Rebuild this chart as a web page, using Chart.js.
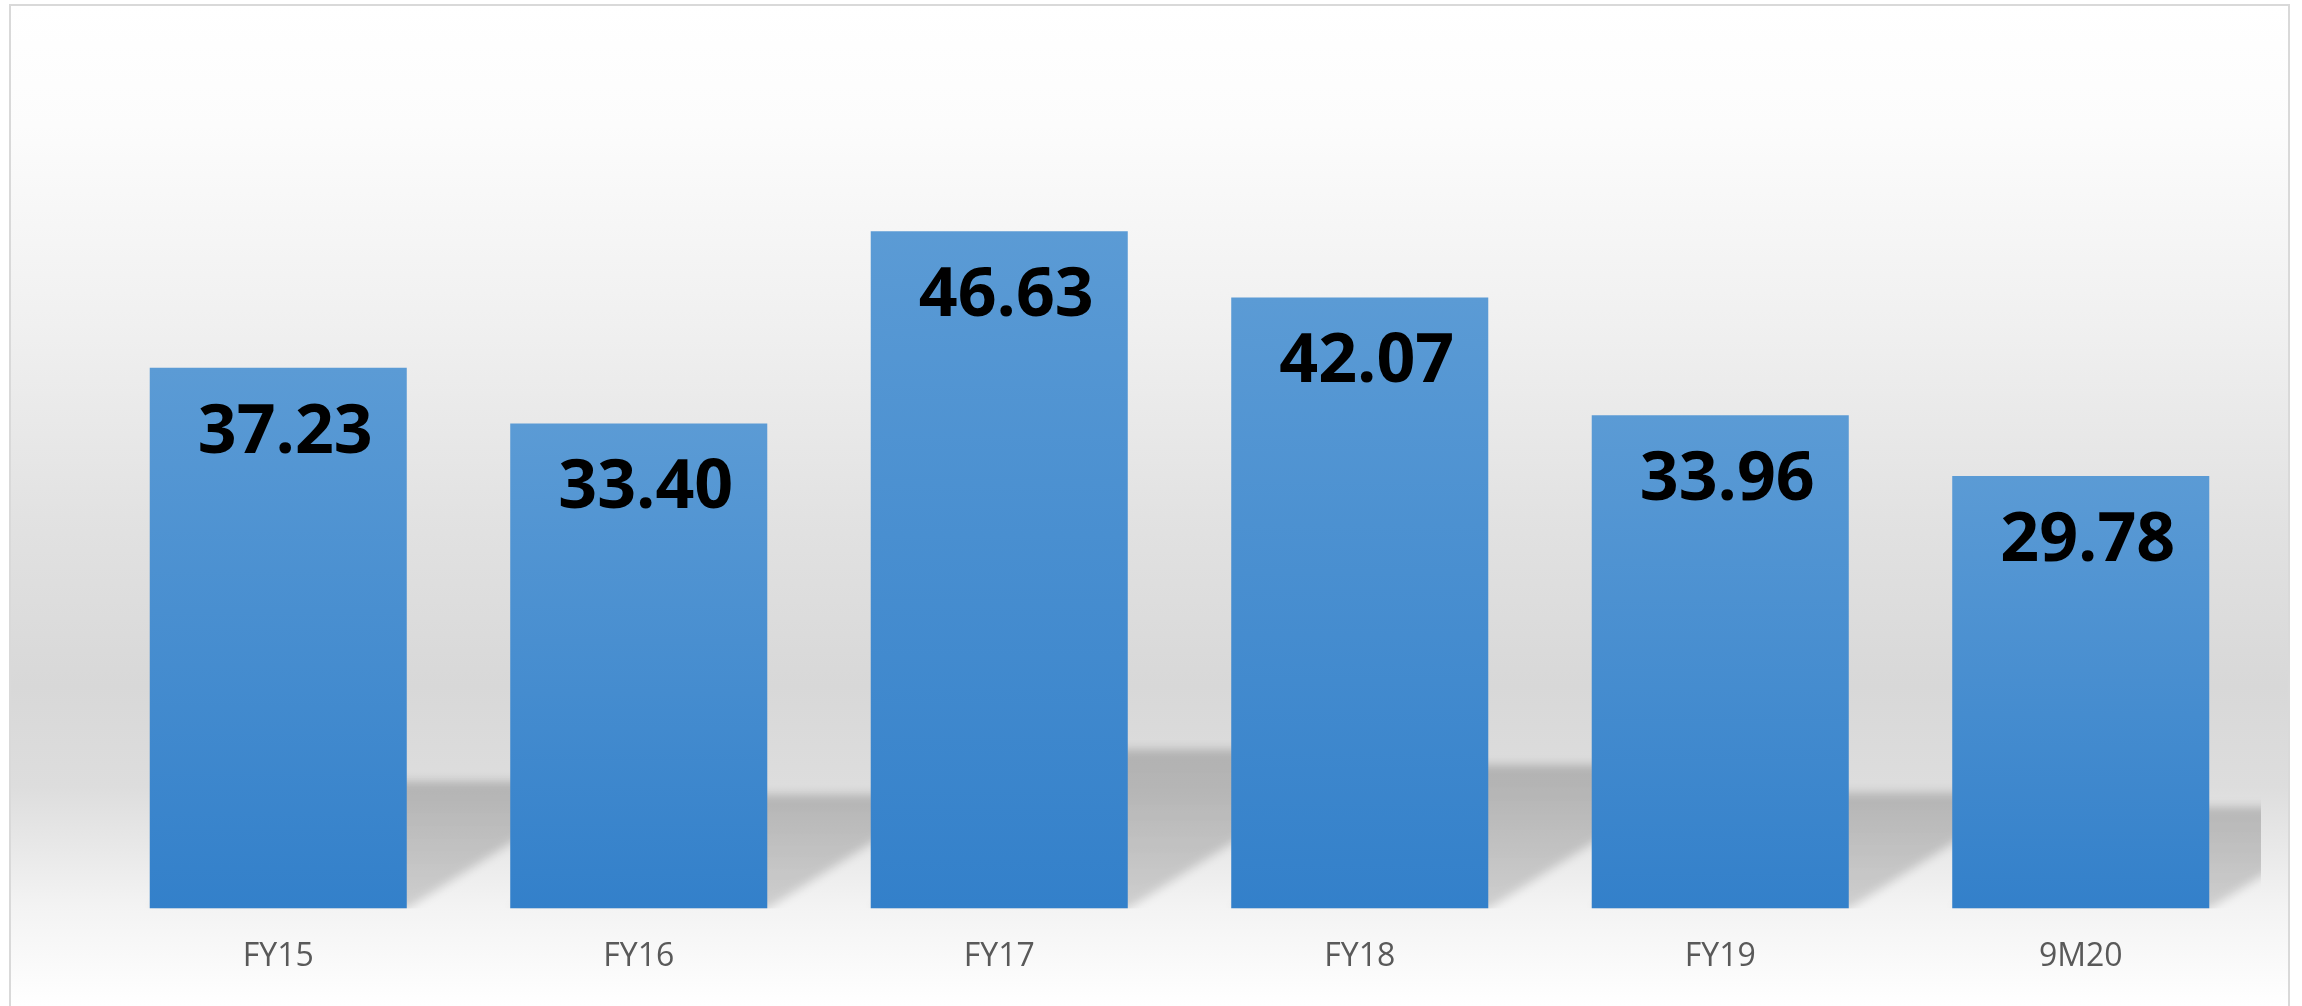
<!DOCTYPE html>
<html>
<head>
<meta charset="utf-8">
<script src="https://cdn.jsdelivr.net/npm/chart.js@4"></script>
<style>
  html, body { margin: 0; padding: 0; background: #ffffff; }
  #wrap { width: 2302px; height: 1006px; }
</style>
</head>
<body>
<div id="wrap"><canvas id="myChart" width="2302" height="1006"></canvas></div>
<script>
// dados do gráfico
const categories = ['FY15', 'FY16', 'FY17', 'FY18', 'FY19', '9M20'];
const values = [37.23, 33.40, 46.63, 42.07, 33.96, 29.78];

// fundo em degradê + moldura cinza
const backgroundPlugin = {
    id: 'fundo',
    beforeDraw(chart) {
        const c = chart.ctx;
        const h = chart.height;
        const g = c.createLinearGradient(0, 5, 0, h);
        g.addColorStop(0.00, '#ffffff');
        g.addColorStop(0.12, '#fcfcfc');
        g.addColorStop(0.32, '#f0f0f0');
        g.addColorStop(0.51, '#e2e2e2');
        g.addColorStop(0.68, '#d8d8d8');
        g.addColorStop(0.78, '#dddddd');
        g.addColorStop(0.90, '#f3f3f3');
        g.addColorStop(1.00, '#ffffff');
        c.save();
        c.fillStyle = '#ffffff';
        c.fillRect(0, 0, chart.width, h);
        c.fillStyle = g;
        c.fillRect(10, 5, 2279, h);
        c.strokeStyle = '#d9d9d9';
        c.lineWidth = 2;
        c.strokeRect(10, 5, 2279, h + 10);
        c.restore();
    }
};

// sombra em perspectiva atrás das barras
const shadowPlugin = {
    id: 'sombra',
    beforeDatasetsDraw(chart) {
        const c = chart.ctx;
        const area = chart.chartArea;
        const bars = chart.getDatasetMeta(0).data;
        c.save();
        c.beginPath();
        c.rect(area.left, 0, area.right - area.left, area.bottom);
        c.clip();
        c.filter = 'blur(5px)';
        bars.forEach(bar => {
            const w = bar.width;
            const L = bar.x - w / 2, R = bar.x + w / 2, B = bar.base;
            const h = B - bar.y;
            const sh = h * 0.235, s = h * 0.373;
            const g = c.createLinearGradient(0, B - sh, 0, B);
            g.addColorStop(0, 'rgba(0,0,0,0.19)');
            g.addColorStop(1, 'rgba(0,0,0,0.15)');
            c.fillStyle = g;
            c.beginPath();
            c.moveTo(L, B);
            c.lineTo(R, B);
            c.lineTo(R + s, B - sh);
            c.lineTo(L + s, B - sh);
            c.closePath();
            c.fill();
        });
        c.restore();
    }
};

// rótulos dentro das barras
const labelPlugin = {
    id: 'rotulos',
    afterDatasetsDraw(chart) {
        const c = chart.ctx;
        const bars = chart.getDatasetMeta(0).data;
        c.save();
        c.font = 'bold 68px "Open Sans"';
        c.fillStyle = '#000000';
        c.textAlign = 'center';
        c.textBaseline = 'alphabetic';
        bars.forEach((bar, i) => {
            c.fillText(values[i].toFixed(2), bar.x + 7, bar.y + 85);
        });
        c.restore();
    }
};

window.onload = function() {
    const ctx = document.getElementById('myChart').getContext('2d');
    const myChart = new Chart(ctx, {
        type: 'bar',
        data: {
            labels: categories,
            datasets: [{
                data: values,
                backgroundColor: function(context) {
                    const chart = context.chart;
                    if (!chart.chartArea || context.raw === undefined) return '#4a8fd1';
                    const y = chart.scales.y;
                    const top = y.getPixelForValue(context.raw);
                    const base = y.getPixelForValue(0);
                    const g = chart.ctx.createLinearGradient(0, top, 0, base);
                    g.addColorStop(0, '#5b9bd5');
                    g.addColorStop(1, '#3380ca');
                    return g;
                },
                borderWidth: 0,
                barPercentage: 0.713,
                categoryPercentage: 1.0
            }]
        },
        options: {
            responsive: false,
            animation: false,
            plugins: {
                legend: { display: false },
                tooltip: { enabled: false }
            },
            scales: {
                y: {
                    display: false,
                    min: 0,
                    max: 60
                },
                x: {
                    grid: { display: false },
                    border: { display: false },
                    ticks: {
                        color: '#595959',
                        padding: 21,
                        font: { family: '"Open Sans"', size: 32 }
                    }
                }
            },
            layout: {
                padding: { left: 98, right: 41, top: 37, bottom: 9 }
            }
        },
        plugins: [backgroundPlugin, shadowPlugin, labelPlugin]
    });
};
</script>
</body>
</html>
